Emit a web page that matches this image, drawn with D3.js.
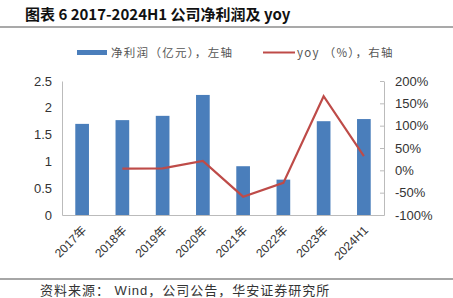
<!DOCTYPE html>
<html>
<head>
<meta charset="utf-8">
<script src="https://cdn.jsdelivr.net/npm/d3@7"></script>
<style>
  body { margin: 0; background: #fff; }
  svg { display: block; font-family: "Liberation Sans", "Noto Sans CJK SC", Arial, sans-serif; }
</style>
</head>
<body>
<div class="chart"></div>
<script>
// data
var years = ['2017年', '2018年', '2019年', '2020年', '2021年', '2022年', '2023年', '2024H1'];
var profit = [1.70, 1.77, 1.85, 2.24, 0.91, 0.66, 1.75, 1.79];
var yoy = [null, 4, 4.5, 21, -59, -28, 166, 32];
var leftTicks = [0, 0.5, 1, 1.5, 2, 2.5];
var rightTicks = [-100, -50, 0, 50, 100, 150, 200];

var W = 453, H = 298;
var plotL = 62, plotR = 384, plotT = 81, plotB = 215;

var svg = d3.select('.chart').append('svg')
  .attr('width', W)
  .attr('height', H);

// title + rules
svg.append('text')
  .attr('x', 25).attr('y', 20)
  .style('font-family', '"Noto Sans CJK SC", sans-serif')
  .style('font-weight', 'bold')
  .style('font-size', '15px')
  .attr('fill', '#111')
  .text('图表 6 2017-2024H1 公司净利润及 yoy');

svg.append('line')
  .attr('x1', 0).attr('x2', W).attr('y1', 27).attr('y2', 27)
  .attr('stroke', '#555').attr('stroke-width', 1.2);

svg.append('line')
  .attr('x1', 0).attr('x2', W).attr('y1', 279).attr('y2', 279)
  .attr('stroke', '#888').attr('stroke-width', 1.5);

svg.append('text')
  .attr('x', 40).attr('y', 295)
  .style('font-size', '13px')
  .style('letter-spacing', '1px')
  .attr('fill', '#333')
  .text('资料来源： Wind，公司公告，华安证券研究所');

// scales
var x = d3.scaleBand().domain(years).range([plotL, plotR]).paddingInner(0.66).paddingOuter(0.33);
var yL = d3.scaleLinear().domain([0, 2.5]).range([plotB, plotT]);
var yR = d3.scaleLinear().domain([-100, 200]).range([plotB, plotT]);

// axes
var axL = svg.append('g')
  .attr('transform', 'translate(' + plotL + ',0)')
  .call(d3.axisLeft(yL).tickValues(leftTicks).tickSize(0).tickPadding(10).tickFormat(d3.format('')));
axL.select('.domain').attr('stroke', '#bbb');
axL.selectAll('text').style('font-size', '13px').style('font-family', '"Liberation Sans", Arial, sans-serif').attr('fill', '#333');

var axR = svg.append('g')
  .attr('transform', 'translate(' + plotR + ',0)')
  .call(d3.axisRight(yR).tickValues(rightTicks).tickSizeInner(-4).tickSizeOuter(0).tickPadding(11)
    .tickFormat(function (d) { return d + '%'; }));
axR.select('.domain').attr('stroke', '#bbb');
axR.selectAll('line').attr('stroke', '#bbb');
axR.selectAll('text').style('font-size', '13px').style('font-family', '"Liberation Sans", Arial, sans-serif').attr('fill', '#333');

var axB = svg.append('g')
  .attr('transform', 'translate(0,' + plotB + ')')
  .call(d3.axisBottom(x).tickSize(0).tickPadding(0));
axB.select('.domain').attr('stroke', '#bbb');
axB.selectAll('text')
  .style('font-family', '"Liberation Sans", "Noto Sans CJK SC", sans-serif')
  .style('font-size', '12px')
  .attr('fill', '#333')
  .attr('text-anchor', 'end')
  .attr('dy', '0')
  .attr('transform', 'translate(5,16) rotate(-45)');

// bars
svg.selectAll('rect.bar')
  .data(profit)
  .enter()
  .append('rect')
  .classed('bar', true)
  .attr('x', function (d, i) { return x(years[i]); })
  .attr('width', x.bandwidth())
  .attr('y', function (d) { return yL(d); })
  .attr('height', function (d) { return plotB - yL(d); })
  .attr('fill', '#4a7ebb');

// yoy line
var line = d3.line()
  .defined(function (d) { return d != null; })
  .x(function (d, i) { return x(years[i]) + x.bandwidth() / 2; })
  .y(function (d) { return yR(d); });

svg.append('path')
  .datum(yoy)
  .attr('d', line)
  .attr('fill', 'none')
  .attr('stroke', '#be4b48')
  .attr('stroke-width', 2.2);

// legend
var lg = svg.append('g')
  .style('font-family', '"Noto Sans CJK SC", sans-serif')
  .style('font-size', '11.5px')
  .style('letter-spacing', '1.3px');
lg.append('rect').attr('x', 77).attr('y', 50).attr('width', 30).attr('height', 5).attr('fill', '#4a7ebb');
lg.append('text').attr('x', 111).attr('y', 56.5).attr('fill', '#555').text('净利润（亿元），左轴');
lg.append('line').attr('x1', 263).attr('x2', 295).attr('y1', 52.5).attr('y2', 52.5)
  .attr('stroke', '#be4b48').attr('stroke-width', 2);
lg.append('text').attr('x', 297).attr('y', 56.5).attr('fill', '#555').text('yoy  （%），右轴');
</script>
</body>
</html>
